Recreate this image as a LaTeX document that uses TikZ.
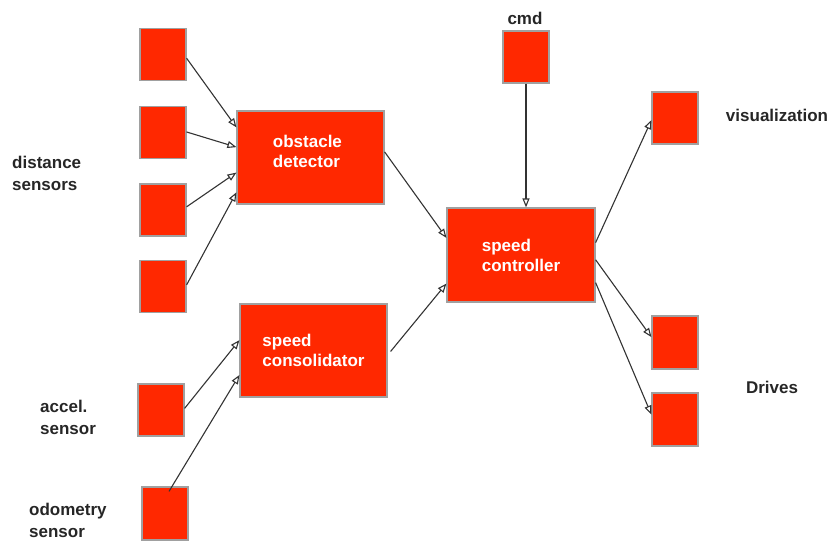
\documentclass[tikz,border=0pt]{standalone}
\usepackage{fontspec}
\setmainfont{Liberation Sans}
\usetikzlibrary{arrows.meta,calc}
\definecolor{boxred}{RGB}{255,40,0}
\definecolor{boxline}{RGB}{160,160,160}
\begin{document}
\begin{tikzpicture}[x=1pt,y=-1pt,
 small/.style={draw=boxline, fill=boxred, line width=1.2pt, minimum width=46pt, minimum height=52pt, inner sep=0pt},
 big/.style={draw=boxline, fill=boxred, line width=1.2pt, minimum width=147pt, minimum height=93pt, inner sep=0pt, text=white, font=\bfseries\fontsize{17}{20}\selectfont, align=left},
 lbl/.style={font=\bfseries\fontsize{17}{22}\selectfont, align=left, inner sep=0pt, text=black!85},
 conn/.style={draw=black!80, line width=1.1pt, -{Triangle[open, length=9pt, width=7pt]}}]

\useasboundingbox (0,0) rectangle (831,541);

% small boxes
\node[small] (S1) at (163,54.5) {};
\node[small] (S2) at (163,132.5) {};
\node[small] (S3) at (163,210) {};
\node[small] (S4) at (163,286.5) {};
\node[small] (AS) at (161,410) {};
\node[small, minimum height=53pt] (OS) at (165,513.5) {};
\node[small] (CMD) at (526,57) {};
\node[small] (VIS) at (675,118) {};
\node[small, minimum height=53pt] (D1) at (675,342.5) {};
\node[small, minimum height=53pt] (D2) at (675,419.5) {};

% big boxes
\node[big, text depth=12pt] (OD) at (310.5,157.5) {obstacle\\detector\hspace*{8pt}};
\node[big] (SCO) at (313.5,350.5) {speed\\consolidator};
\node[big, minimum width=148pt, minimum height=94pt] (SPC) at (521,255) {speed\\controller};

% labels
\node[lbl, anchor=west] (Ldist) at (12,173) {distance\\sensors};
\node[lbl, anchor=west] (Lacc) at (40,417) {accel.\\sensor};
\node[lbl, anchor=west] (Lodo) at (29,520) {odometry\\sensor};
\node[lbl] (Lcmd) at (525,18) {cmd};
\node[lbl] (Lvis) at (777,115) {visualization};
\node[lbl] (Ldrv) at (772,387) {Drives};

% connectors
\draw[conn] ($(S1.north east)!0.57!(S1.south east)$) -- ($(OD.north west)!0.18!(OD.south west)$);
\draw[conn] ($(S2.north east)!0.49!(S2.south east)$) -- ($(OD.north west)!0.39!(OD.south west)$);
\draw[conn] ($(S3.north east)!0.44!(S3.south east)$) -- ($(OD.north west)!0.66!(OD.south west)$);
\draw[conn] ($(S4.north east)!0.47!(S4.south east)$) -- ($(OD.north west)!0.87!(OD.south west)$);
\draw[conn] ($(AS.north east)!0.47!(AS.south east)$) -- ($(SCO.north west)!0.39!(SCO.south west)$);
\draw[conn] ($(OS.north)+(4,5)$) -- ($(SCO.north west)!0.76!(SCO.south west)$);
\draw[conn] ($(OD.north east)!0.44!(OD.south east)$) -- ($(SPC.north west)!0.32!(SPC.south west)$);
\draw[conn] ($(SCO.north east)!0.51!(SCO.south east)+(3,0)$) -- ($(SPC.north west)!0.8!(SPC.south west)$);
\draw[conn] (CMD.south) -- (CMD.south |- SPC.north);
\draw[conn] ($(SPC.north east)!0.37!(SPC.south east)$) -- ($(VIS.north west)!0.54!(VIS.south west)$);
\draw[conn] ($(SPC.north east)!0.55!(SPC.south east)$) -- ($(D1.north west)!0.4!(D1.south west)$);
\draw[conn] ($(SPC.north east)!0.79!(SPC.south east)$) -- ($(D2.north west)!0.41!(D2.south west)$);
\end{tikzpicture}
\end{document}
